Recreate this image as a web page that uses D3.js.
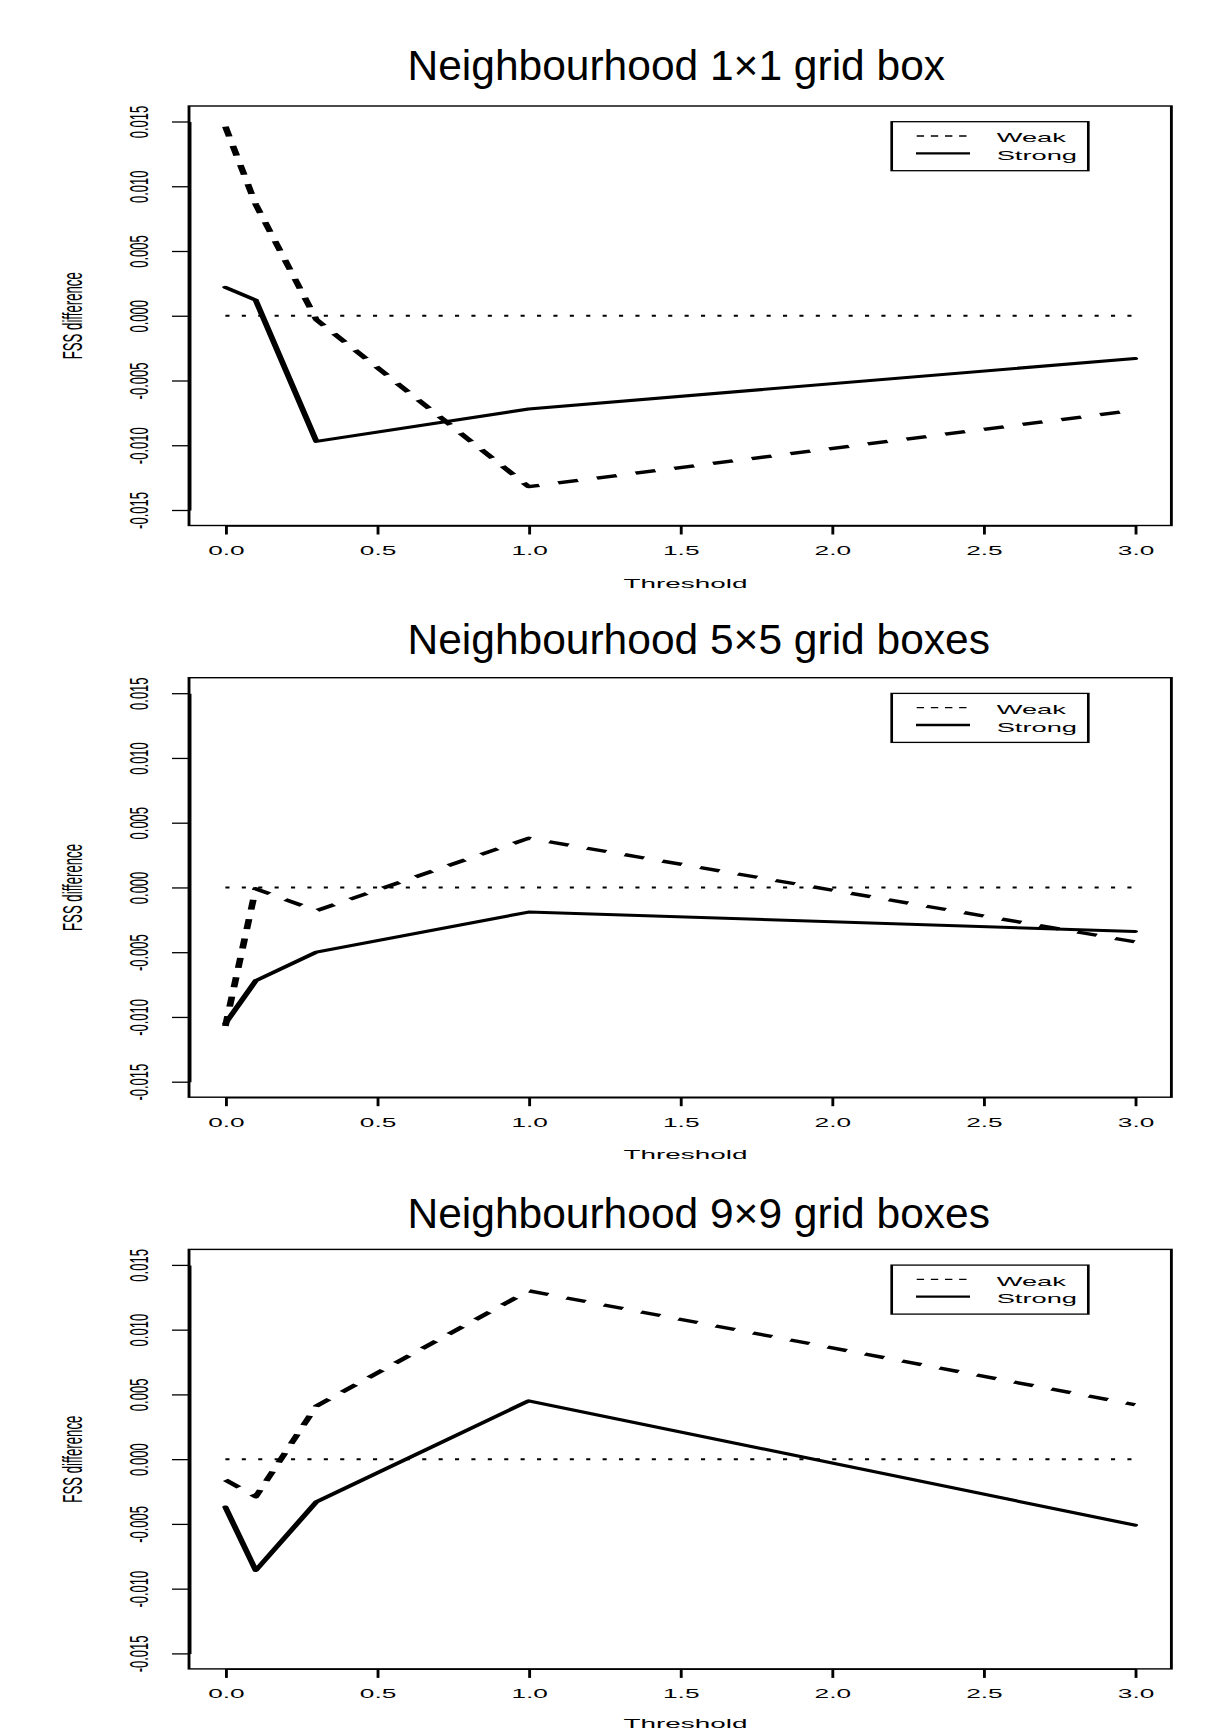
<!DOCTYPE html>
<html>
<head>
<meta charset="utf-8">
<script src="https://cdn.jsdelivr.net/npm/d3@7"></script>
<style>
  html, body { margin: 0; padding: 0; background: #fff; }
  text { font-family: "Liberation Sans", Arial, Helvetica, sans-serif; fill: #000; }
</style>
</head>
<body>
<script>
// ---------------- data ----------------
const thresholds = [0, 0.1, 0.3, 1.0, 3.0];
const panelTitles = [
  "Neighbourhood 1\u00d71 grid box",
  "Neighbourhood 5\u00d75 grid boxes",
  "Neighbourhood 9\u00d79 grid boxes"
];
const weak1x1   = [0.0146, 0.0086, -0.0003, -0.0132, -0.0073];
const strong1x1 = [0.0022, 0.0012, -0.0097, -0.0072, -0.0033];
const weak5x5   = [-0.0107, -0.0001, -0.0018, 0.0038, -0.0042];
const strong5x5 = [-0.0105, -0.0072, -0.0050, -0.0019, -0.0034];
const weak9x9   = [-0.0016, -0.0029, 0.0041, 0.0130, 0.0042];
const strong9x9 = [-0.0037, -0.0086, -0.0033, 0.0045, -0.0051];
const xTicks = [0, 0.5, 1.0, 1.5, 2.0, 2.5, 3.0];
const xTickLabels = ["0.0", "0.5", "1.0", "1.5", "2.0", "2.5", "3.0"];
const yTicks = [-0.015, -0.010, -0.005, 0.000, 0.005, 0.010, 0.015];
const yTickLabels = ["-0.015", "-0.010", "-0.005", "0.000", "0.005", "0.010", "0.015"];
const legendLabels = ["Weak", "Strong"];
const xLabel = "Threshold";
const yLabel = "FSS difference";
const zeroLine = [[0, 0], [3, 0]];

const panels = [
  { title: panelTitles[0], weak: weak1x1, strong: strong1x1 },
  { title: panelTitles[1], weak: weak5x5, strong: strong5x5 },
  { title: panelTitles[2], weak: weak9x9, strong: strong9x9 }
];

// ---------------- layout ----------------
const W = 1207, H = 1731;
const S = 2.05;               // horizontal stretch of the plot graphics
const panelStep = 571.7;
const titleStep = 574;

const svg = d3.select("body").append("svg")
  .attr("width", W).attr("height", H)
  .attr("viewBox", `0 0 ${W} ${H}`);

panels.forEach((p, i) => {
  const top = 106 + i * panelStep;
  const bottom = 525.5 + i * panelStep;

  // title (not stretched)
  svg.append("text")
    .attr("x", 407.5)
    .attr("y", 80.4 + i * titleStep)
    .attr("font-size", 42.5)
    .text(p.title);

  const g = svg.append("g").attr("transform", `scale(${S},1)`);

  const x = d3.scaleLinear().domain([0, 3]).range([225.4 / S, 1135 / S]);
  const y = d3.scaleLinear().domain([-0.015, 0.015]).range([bottom - 15.5, top + 15.5]);

  const xl = x(-0.12), xr = x(3.12);

  // box
  g.append("rect")
    .attr("x", xl).attr("y", top)
    .attr("width", xr - xl).attr("height", bottom - top)
    .attr("fill", "none").attr("stroke", "#000").attr("stroke-width", 1.4);

  // x axis
  const ax = g.append("g")
    .attr("transform", `translate(0,${bottom})`)
    .call(d3.axisBottom(x).tickValues(xTicks)
      .tickFormat((d, j) => xTickLabels[j]).tickSize(9).tickSizeOuter(0));
  ax.select(".domain").attr("stroke", "#000").attr("stroke-width", 1.4);
  ax.selectAll(".tick line").attr("stroke", "#000").attr("stroke-width", 1.4);
  ax.selectAll(".tick text")
    .attr("y", 29.5).attr("dy", null)
    .attr("font-size", 12.8)
    .attr("font-family", '"Liberation Sans", Arial, sans-serif')
    .attr("fill", "#000");

  // y axis
  const ay = g.append("g")
    .attr("transform", `translate(${xl},0)`)
    .call(d3.axisLeft(y).tickValues(yTicks)
      .tickFormat((d, j) => yTickLabels[j]).tickSize(8.3).tickSizeOuter(0));
  ay.select(".domain").attr("stroke", "#000").attr("stroke-width", 1.4);
  ay.selectAll(".tick line").attr("stroke", "#000").attr("stroke-width", 1.3);
  ay.selectAll(".tick text")
    .attr("x", null).attr("dy", null)
    .attr("text-anchor", "middle")
    .attr("transform", `translate(${72 - xl},0) rotate(-90)`)
    .attr("font-size", 13)
    .attr("font-family", '"Liberation Sans", Arial, sans-serif')
    .attr("fill", "#000");

  // axis titles
  g.append("text")
    .attr("x", 685.5 / S).attr("y", Math.min(bottom + 62.2, H - 3))
    .attr("text-anchor", "middle")
    .attr("font-size", 13.6)
    .text(xLabel);
  g.append("text")
    .attr("transform", `translate(${82 / S},${(top + bottom) / 2}) rotate(-90)`)
    .attr("text-anchor", "middle")
    .attr("font-size", 13.2)
    .text(yLabel);

  const line = d3.line().x(d => x(d[0])).y(d => y(d[1]));

  // zero reference line
  g.append("path").datum(zeroLine)
    .attr("d", line)
    .attr("fill", "none").attr("stroke", "#000")
    .attr("stroke-width", 2).attr("stroke-dasharray", "2,6");

  // weak (dashed)
  g.append("path").datum(thresholds.map((t, k) => [t, p.weak[k]]))
    .attr("d", line)
    .attr("fill", "none").attr("stroke", "#000")
    .attr("stroke-width", 3.3).attr("stroke-dasharray", "10,9.5")
    .attr("stroke-linejoin", "round");

  // strong (solid)
  g.append("path").datum(thresholds.map((t, k) => [t, p.strong[k]]))
    .attr("d", line)
    .attr("fill", "none").attr("stroke", "#000")
    .attr("stroke-width", 3).attr("stroke-linejoin", "round").attr("stroke-linecap", "round");

  // legend
  const lg = g.append("g");
  lg.append("rect")
    .attr("x", 891.7 / S).attr("y", top + 15.7)
    .attr("width", (1088.3 - 891.7) / S).attr("height", 49)
    .attr("fill", "#fff").attr("stroke", "#000").attr("stroke-width", 1.3);
  lg.append("line")
    .attr("x1", 916.7 / S).attr("x2", 968.3 / S)
    .attr("y1", top + 30).attr("y2", top + 30)
    .attr("stroke", "#000").attr("stroke-width", 1.3)
    .attr("stroke-dasharray", "3.6,3.3");
  lg.append("line")
    .attr("x1", 916 / S).attr("x2", 970 / S)
    .attr("y1", top + 47.3).attr("y2", top + 47.3)
    .attr("stroke", "#000").attr("stroke-width", 2.3);
  lg.append("text")
    .attr("x", 996.7 / S).attr("y", top + 36.3)
    .attr("font-size", 13.3).text(legendLabels[0]);
  lg.append("text")
    .attr("x", 996.7 / S).attr("y", top + 54)
    .attr("font-size", 13.3).text(legendLabels[1]);
});
</script>
</body>
</html>
